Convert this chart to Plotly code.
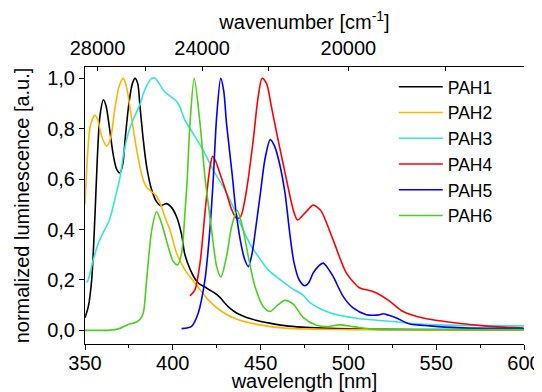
import plotly.graph_objects as go

# ---------------- data ----------------
pah1_wl = [350, 351.9, 353.8, 355.7, 357, 358.5, 360.5, 362, 364, 366, 368, 369.9, 371.5, 373, 375, 377,
           378.5, 380, 381.3, 383.2, 385.1, 388, 390.8, 393, 396.5, 399, 402.2, 405, 406.9, 410, 412.6, 415,
           418.3, 421, 424, 427, 429.7, 433, 436.3, 440, 443, 448, 452.4, 458, 463.8, 473.5, 485, 500, 520,
           550, 600]
pah1_int = [0.05, 0.095, 0.2, 0.46, 0.68, 0.85, 0.915, 0.89, 0.80, 0.70, 0.64, 0.625, 0.66, 0.77, 0.90, 0.98,
            1.0, 0.98, 0.89, 0.755, 0.65, 0.557, 0.51, 0.495, 0.503, 0.49, 0.45, 0.38, 0.30, 0.24, 0.205, 0.185,
            0.172, 0.16, 0.148, 0.13, 0.108, 0.085, 0.069, 0.057, 0.049, 0.039, 0.032, 0.025, 0.019, 0.013,
            0.009, 0.006, 0.004, 0.003, 0.002]

pah2_wl = [350, 351.5, 353, 355.7, 357.5, 359.5, 362.3, 364.5, 367, 369.5, 371.8, 373.5, 375.6, 378.5, 381.3,
           383.5, 385.5, 388, 390.5, 393.6, 395.5, 398.4, 402.2, 406.9, 412.6, 420.2, 427.8, 437.3, 448.6,
           463.8, 480, 500, 550, 600]
pah2_int = [0.50, 0.70, 0.81, 0.854, 0.83, 0.77, 0.731, 0.76, 0.88, 0.97, 1.0, 0.97, 0.886, 0.755, 0.649,
            0.59, 0.565, 0.55, 0.535, 0.49, 0.45, 0.398, 0.306, 0.24, 0.188, 0.121, 0.075, 0.042, 0.023,
            0.009, 0.005, 0.003, 0.002, 0.002]

pah3_wl = [350.8, 351.8, 354.7, 357.6, 360.5, 364, 367, 370, 372, 374.6, 377, 379.4, 381.5, 383.2, 385.5,
           388, 390, 391.7, 393.5, 395.5, 397.4, 400.3, 402, 404.1, 406.9, 411.6, 417.3, 423, 428.7, 434.4,
           438, 442, 445, 448, 451.5, 454.3, 460, 467.6, 474.2, 478.1, 489.4, 504.6, 523.6, 542.5, 561.5,
           580, 600]
pah3_int = [0.19, 0.2, 0.28, 0.346, 0.39, 0.44, 0.52, 0.61, 0.7, 0.781, 0.83, 0.867, 0.9, 0.939, 0.975,
            1.0, 1.0, 0.985, 0.965, 0.946, 0.935, 0.92, 0.91, 0.886, 0.834, 0.781, 0.715, 0.636, 0.57, 0.49,
            0.43, 0.37, 0.33, 0.30, 0.265, 0.24, 0.207, 0.168, 0.14, 0.11, 0.07, 0.048, 0.036, 0.024, 0.02,
            0.019, 0.018]

pah4_wl = [409.8, 412.6, 415.5, 418.3, 420.2, 421.5, 422.7, 424.5, 426.8, 430.6, 433.5, 436.3, 438.5, 442,
           445.8, 448.6, 450.9, 453.4, 456.2, 460, 464.8, 468.6, 471, 475.2, 479.9, 482, 484.7, 491.3, 498.9,
           506.5, 511, 516, 523.6, 531.2, 542.5, 561.5, 580.5, 599.5]
pah4_int = [0.137, 0.161, 0.267, 0.465, 0.596, 0.66, 0.691, 0.67, 0.623, 0.544, 0.48, 0.445, 0.45, 0.557,
            0.755, 0.926, 1.0, 0.979, 0.886, 0.755, 0.596, 0.478, 0.438, 0.465, 0.497, 0.49, 0.471, 0.359,
            0.227, 0.168, 0.16, 0.148, 0.115, 0.075, 0.049, 0.029, 0.016, 0.009]

pah5_wl = [405, 410.7, 414.5, 418.3, 421.1, 423, 425, 427.3, 429, 430.6, 433.8, 436, 439.2, 441, 443, 445,
           447.5, 450, 452.5, 455.5, 458, 460.5, 463.8, 466.7, 469, 472, 475.2, 477.5, 479.9, 483, 485.6, 488,
           491.3, 497, 502.7, 510.3, 514, 517.9, 519.8, 523, 527.4, 535, 546.4, 561.5, 580, 600]
pah5_int = [0.007, 0.016, 0.069, 0.2, 0.398, 0.596, 0.85, 1.0, 0.95, 0.821, 0.62, 0.47, 0.33, 0.28, 0.253,
            0.3, 0.42, 0.55, 0.68, 0.757, 0.73, 0.67, 0.55, 0.38, 0.27, 0.2, 0.177, 0.19, 0.227, 0.255, 0.267,
            0.25, 0.214, 0.135, 0.089, 0.062, 0.06, 0.062, 0.066, 0.06, 0.049, 0.025, 0.018, 0.011, 0.008, 0.007]

pah6_wl = [350, 360, 364.2, 369, 374.6, 379.4, 381.5, 383.2, 385.1, 388, 390.8, 393.6, 397.4, 400.3, 402.7,
           405, 406.9, 408.2, 409.8, 412.2, 415.5, 418.3, 422.1, 425, 427.4, 430.6, 433.5, 436.7, 440.1, 443,
           446.8, 451.5, 455.3, 460, 463.8, 468.6, 474.2, 481.9, 487.6, 495.1, 502.7, 512, 530, 560, 600]
pah6_int = [0.0, 0.0, 0.001, 0.006, 0.023, 0.033, 0.045, 0.069, 0.2, 0.398, 0.471, 0.425, 0.332, 0.273, 0.26,
            0.306, 0.465, 0.6, 0.821, 1.0, 0.821, 0.61, 0.398, 0.253, 0.211, 0.293, 0.412, 0.475, 0.398, 0.293,
            0.174, 0.095, 0.075, 0.102, 0.119, 0.104, 0.052, 0.02, 0.015, 0.022, 0.015, 0.006, 0.003, 0.003,
            0.003]

series_names = ["PAH1", "PAH2", "PAH3", "PAH4", "PAH5", "PAH6"]
series_x = [pah1_wl, pah2_wl, pah3_wl, pah4_wl, pah5_wl, pah6_wl]
series_y = [pah1_int, pah2_int, pah3_int, pah4_int, pah5_int, pah6_int]
series_colors = ["#000000", "#FFB400", "#33E6D6", "#FF0000", "#0000FF", "#4CCF1E"]

wavelength_ticks = [350, 400, 450, 500, 550, 600]
wavenumber_ticks = [28000, 26000, 24000, 22000, 20000, 18000]
wavenumber_labels = ["28000", "", "24000", "", "20000", ""]
y_ticks = [0.0, 0.2, 0.4, 0.6, 0.8, 1.0]

# ---------------- figure ----------------
FONT = "Liberation Sans, Arial, sans-serif"
TFONT = dict(family=FONT, size=20, color="black")
fig = go.Figure()
for name, xs, ys, col in zip(series_names, series_x, series_y, series_colors):
    fig.add_trace(go.Scatter(x=xs, y=ys, mode="lines", name=name,
                             line=dict(color=col, width=1.6, shape="spline", smoothing=0.8)))
# empty trace so that the top (wavenumber) axis is drawn
fig.add_trace(go.Scatter(x=[], y=[], xaxis="x2", yaxis="y", showlegend=False, hoverinfo="skip"))

xr = [350, 600]
yr = [-0.054, 1.045]
fig.update_layout(
    width=534, height=384,
    margin=dict(l=77, r=18, t=59, b=48, autoexpand=False),
    paper_bgcolor="white", plot_bgcolor="white",
    separators=", ",
    font=dict(family=FONT, size=20, color="black"),
    showlegend=True,
    legend=dict(x=0.7034, y=0.993, xanchor="left", yanchor="top", bgcolor="rgba(0,0,0,0)",
                borderwidth=0, itemwidth=44, font=dict(family=FONT, size=17.5), tracegroupgap=0),
    xaxis=dict(range=xr, tickmode="array", tickvals=wavelength_ticks, ticks="outside", ticklen=5,
               tickwidth=1, tickcolor="black", showline=True, linecolor="black", linewidth=1,
               showgrid=False, zeroline=False, automargin=False, ticklabelstandoff=-4,
               minor=dict(dtick=25, tick0=350, ticks="outside", ticklen=3, tickcolor="black", showgrid=False),
               title=dict(text="wavelength [nm]", standoff=1, font=TFONT)),
    xaxis2=dict(range=xr, overlaying="x", side="top", anchor="y", tickmode="array",
                tickvals=[1e7 / w for w in wavenumber_ticks], ticktext=wavenumber_labels,
                ticks="inside", ticklen=4, tickcolor="black", showline=True, linecolor="black",
                linewidth=1, showgrid=False, zeroline=False, automargin=False, ticklabelstandoff=3,
                title=dict(text="wavenumber [cm<sup>-1</sup>]", standoff=14, font=TFONT)),
    yaxis=dict(range=yr, tickmode="array", tickvals=y_ticks, tickformat=".1f", ticks="outside",
               ticklen=5, tickcolor="black", showline=True, linecolor="black", linewidth=1,
               showgrid=False, zeroline=False, automargin=False,
               title=dict(text="normalized luminescence [a.u.]", standoff=12, font=TFONT)),
    yaxis2=dict(range=yr, overlaying="y", side="right", anchor="x", dtick=0.1, tick0=0,
                ticks="inside", ticklen=5, tickcolor="black", showticklabels=False, showline=True,
                linecolor="black", linewidth=1, showgrid=False, zeroline=False, automargin=False),
)

fig.write_html("out.html")
